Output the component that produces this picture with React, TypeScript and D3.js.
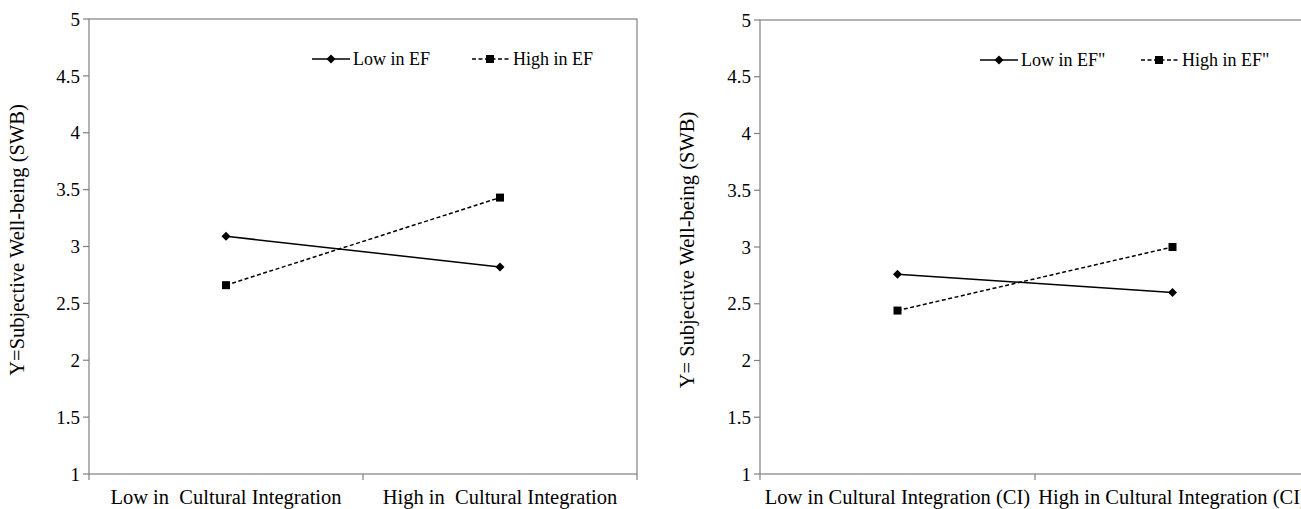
import React from "react";
import * as d3 from "d3";

const W = 1301;
const H = 509;

const yTicks = [1, 1.5, 2, 2.5, 3, 3.5, 4, 4.5, 5];

const leftCategories = ["Low in  Cultural Integration", "High in  Cultural Integration"];
const leftLow = [3.09, 2.82];
const leftHigh = [2.66, 3.43];
const leftSeriesNames = ["Low in EF", "High in EF"];

const rightCategories = ["Low in Cultural Integration (CI)", "High in Cultural Integration (CI)"];
const rightLow = [2.76, 2.6];
const rightHigh = [2.44, 3.0];
const rightSeriesNames = ['Low in EF"', 'High in EF"'];

const FONT = "Liberation Serif, DejaVu Serif, serif";
const AXIS = "#808080";

type PanelProps = {
  x0: number;
  x1: number;
  top: number;
  bottom: number;
  categories: string[];
  low: number[];
  high: number[];
  names: string[];
  yTitle: string;
  yTitleX: number;
  yTitleY: number;
  legendX: number[];
  legendY: number;
};

function Diamond({ cx, cy }: { cx: number; cy: number }) {
  const r = 4.5;
  return <path d={`M${cx},${cy - r}L${cx + r},${cy}L${cx},${cy + r}L${cx - r},${cy}Z`} fill="#000" />;
}

function Square({ cx, cy }: { cx: number; cy: number }) {
  const s = 8;
  return <rect x={cx - s / 2} y={cy - s / 2} width={s} height={s} fill="#000" />;
}

function Panel(p: PanelProps) {
  const x = d3.scaleBand<string>().domain(p.categories).range([p.x0, p.x1]);
  const y = d3.scaleLinear().domain([1, 5]).range([p.bottom, p.top]);
  const cx = (c: string) => (x(c) as number) + x.bandwidth() / 2;

  const line = d3
    .line<number>()
    .x((_, i) => cx(p.categories[i]))
    .y((d) => y(d));

  const boundaries = [p.x0, ...p.categories.map((c) => (x(c) as number) + x.bandwidth())];
  const txt = { fontFamily: FONT, whiteSpace: "pre" as const };

  return (
    <g>
      {/* frame */}
      <rect x={p.x0} y={p.top} width={p.x1 - p.x0} height={p.bottom - p.top} fill="none" stroke={AXIS} strokeWidth={1.2} />
      {/* y ticks */}
      {yTicks.map((t) => (
        <g key={t}>
          <line x1={p.x0 - 6} x2={p.x0} y1={y(t)} y2={y(t)} stroke={AXIS} strokeWidth={1.2} />
          <text x={p.x0 - 9} y={y(t)} dy="0.35em" textAnchor="end" fontSize={19} style={txt} fill="#000">
            {t}
          </text>
        </g>
      ))}
      {/* x ticks */}
      {boundaries.map((b, i) => (
        <line key={i} x1={b} x2={b} y1={p.bottom} y2={p.bottom + 6} stroke={AXIS} strokeWidth={1.2} />
      ))}
      {p.categories.map((c) => (
        <text key={c} x={cx(c)} y={p.bottom + 30} textAnchor="middle" fontSize={20.5} style={txt} fill="#000">
          {c}
        </text>
      ))}
      <text
        transform={`translate(${p.yTitleX},${p.yTitleY}) rotate(-90)`}
        textAnchor="middle"
        fontSize={20.5}
        style={txt}
        fill="#000"
      >
        {p.yTitle}
      </text>

      {/* series */}
      <path d={line(p.low) as string} fill="none" stroke="#000" strokeWidth={1.5} />
      <path d={line(p.high) as string} fill="none" stroke="#000" strokeWidth={1.5} strokeDasharray="4,2.5" />
      {p.low.map((v, i) => (
        <Diamond key={"l" + i} cx={cx(p.categories[i])} cy={y(v)} />
      ))}
      {p.high.map((v, i) => (
        <Square key={"h" + i} cx={cx(p.categories[i])} cy={y(v)} />
      ))}

      {/* legend */}
      <line x1={p.legendX[0]} x2={p.legendX[0] + 38} y1={p.legendY} y2={p.legendY} stroke="#000" strokeWidth={1.5} />
      <Diamond cx={p.legendX[0] + 19} cy={p.legendY} />
      <text x={p.legendX[0] + 41} y={p.legendY} dy="0.35em" fontSize={18} style={txt} fill="#000">
        {p.names[0]}
      </text>
      <line x1={p.legendX[1]} x2={p.legendX[1] + 38} y1={p.legendY} y2={p.legendY} stroke="#000" strokeWidth={1.5} strokeDasharray="4,2.5" />
      <Square cx={p.legendX[1] + 18} cy={p.legendY} />
      <text x={p.legendX[1] + 41} y={p.legendY} dy="0.35em" fontSize={18} style={txt} fill="#000">
        {p.names[1]}
      </text>
    </g>
  );
}

export default function App() {
  return (
    <svg width={W} height={H} style={{ position: "absolute", left: 0, top: 0, background: "#fff" }}>
      <rect width={W} height={H} fill="#fff" />
      <Panel
        x0={89}
        x1={637}
        top={19}
        bottom={474}
        categories={leftCategories}
        low={leftLow}
        high={leftHigh}
        names={leftSeriesNames}
        yTitle="Y=Subjective Well-being (SWB)"
        yTitleX={24}
        yTitleY={240}
        legendX={[312, 472]}
        legendY={59}
      />
      <Panel
        x0={760}
        x1={1310}
        top={20}
        bottom={474}
        categories={rightCategories}
        low={rightLow}
        high={rightHigh}
        names={rightSeriesNames}
        yTitle="Y= Subjective Well-being (SWB)"
        yTitleX={694}
        yTitleY={250}
        legendX={[980, 1141]}
        legendY={60}
      />
    </svg>
  );
}
